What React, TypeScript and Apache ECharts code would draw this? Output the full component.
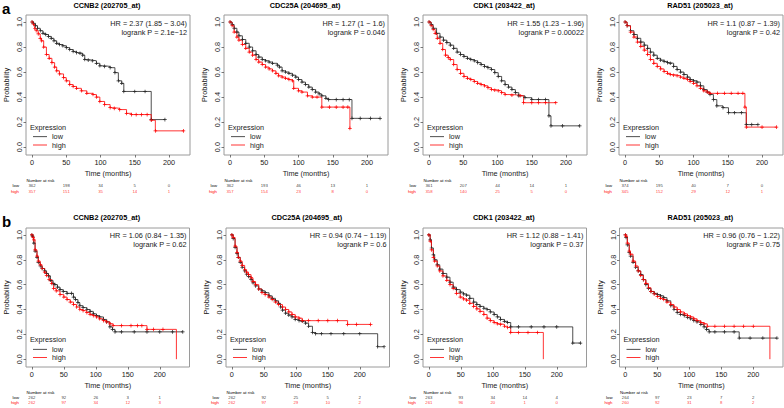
import React, { useEffect, useRef } from 'react';
import * as echarts from 'echarts';

// ---------------- DATA ----------------
const genes = ['CCNB2 (202705_at)', 'CDC25A (204695_at)', 'CDK1 (203422_at)', 'RAD51 (205023_at)'];
const hrTop = ['HR = 2.37 (1.85 − 3.04)', 'HR = 1.27 (1 − 1.6)', 'HR = 1.55 (1.23 − 1.96)', 'HR = 1.1 (0.87 − 1.39)'];
const pTop = ['logrank P = 2.1e−12', 'logrank P = 0.046', 'logrank P = 0.00022', 'logrank P = 0.42'];
const hrBottom = ['HR = 1.06 (0.84 − 1.35)', 'HR = 0.94 (0.74 − 1.19)', 'HR = 1.12 (0.88 − 1.41)', 'HR = 0.96 (0.76 − 1.22)'];
const pBottom = ['logrank P = 0.62', 'logrank P = 0.6', 'logrank P = 0.37', 'logrank P = 0.75'];
const panelLetters = ['a', 'b'];
const groups = ['low', 'high'];
const riskGroups = ['high', 'low'];
const riskTimes = [0, 50, 100, 150, 200];
const xTicks = [0, 50, 100, 150, 200];
const yTicks = [0, 0.2, 0.4, 0.6, 0.8, 1.0];

// survival curves [time (months), probability]
const a1Low = [[0,1],[2,0.99],[5,0.97],[8,0.95],[12,0.93],[16,0.91],[20,0.9],[24,0.885],[28,0.87],[32,0.85],[36,0.83],[40,0.82],[45,0.81],[50,0.795],[55,0.78],[60,0.765],[65,0.755],[70,0.75],[74,0.735],[77,0.7],[82,0.695],[88,0.69],[94,0.67],[99,0.65],[106,0.645],[114,0.635],[121,0.595],[126,0.53],[131,0.51],[134,0.445],[150,0.445],[165,0.445],[174,0.22],[194,0.22]];
const a1High = [[0,1],[2,0.98],[4,0.95],[6,0.93],[9,0.905],[12,0.87],[14,0.85],[17,0.8],[21,0.74],[25,0.71],[29,0.675],[33,0.64],[36,0.61],[40,0.585],[46,0.555],[50,0.53],[55,0.5],[60,0.485],[65,0.47],[72,0.45],[80,0.43],[89,0.42],[94,0.4],[99,0.365],[106,0.34],[114,0.315],[120,0.31],[128,0.3],[138,0.27],[145,0.26],[152,0.26],[160,0.26],[168,0.26],[174,0.215],[180,0.13],[221,0.13]];
const a2Low = [[0,1],[3,0.98],[6,0.95],[10,0.92],[13,0.89],[18,0.86],[23,0.83],[28,0.8],[33,0.77],[38,0.74],[42,0.72],[47,0.7],[52,0.69],[57,0.68],[62,0.67],[69,0.655],[72,0.64],[76,0.61],[81,0.6],[86,0.59],[91,0.575],[96,0.56],[100,0.54],[105,0.52],[110,0.5],[115,0.48],[120,0.46],[125,0.44],[130,0.425],[134,0.41],[140,0.39],[144,0.38],[155,0.38],[165,0.38],[174,0.38],[178,0.23],[190,0.23],[205,0.23],[219,0.23]];
const a2High = [[0,1],[3,0.97],[6,0.92],[10,0.88],[13,0.855],[18,0.82],[23,0.79],[28,0.76],[33,0.735],[38,0.7],[42,0.68],[47,0.66],[52,0.64],[57,0.625],[62,0.61],[67,0.59],[71,0.57],[76,0.56],[81,0.55],[86,0.54],[91,0.53],[93,0.47],[100,0.45],[105,0.44],[113,0.41],[120,0.4],[127,0.4],[134,0.32],[145,0.32],[155,0.32],[165,0.32],[172,0.32],[175,0.15]];
const a3Low = [[0,1],[3,0.98],[6,0.95],[11,0.91],[16,0.88],[21,0.855],[26,0.835],[31,0.815],[36,0.79],[41,0.76],[46,0.74],[51,0.725],[56,0.71],[61,0.7],[66,0.69],[71,0.675],[76,0.66],[81,0.645],[86,0.635],[91,0.62],[96,0.595],[101,0.565],[106,0.53],[111,0.5],[116,0.48],[121,0.46],[126,0.435],[131,0.41],[140,0.395],[150,0.38],[160,0.38],[170,0.38],[175,0.25],[178,0.17],[195,0.17],[220,0.17]];
const a3High = [[0,1],[3,0.97],[6,0.94],[9,0.91],[12,0.87],[16,0.83],[20,0.78],[24,0.735],[28,0.715],[31,0.7],[36,0.66],[41,0.62],[46,0.59],[51,0.565],[56,0.55],[61,0.54],[66,0.525],[71,0.51],[76,0.5],[81,0.49],[86,0.475],[91,0.46],[96,0.455],[101,0.45],[106,0.435],[111,0.42],[121,0.415],[133,0.41],[138,0.355],[150,0.355],[160,0.355],[170,0.355],[185,0.355]];
const a4Low = [[0,1],[3,0.97],[8,0.93],[13,0.9],[18,0.87],[23,0.84],[28,0.815],[33,0.79],[37,0.76],[42,0.735],[47,0.71],[52,0.695],[57,0.685],[62,0.675],[66,0.67],[71,0.645],[76,0.62],[81,0.6],[86,0.58],[91,0.56],[95,0.54],[100,0.53],[105,0.52],[110,0.49],[115,0.46],[120,0.44],[124,0.42],[129,0.38],[134,0.33],[143,0.315],[151,0.275],[160,0.275],[170,0.275],[177,0.18],[185,0.18],[194,0.18]];
const a4High = [[0,1],[3,0.97],[8,0.92],[13,0.88],[18,0.84],[23,0.805],[28,0.775],[33,0.74],[37,0.7],[42,0.67],[47,0.645],[52,0.625],[57,0.605],[62,0.59],[66,0.58],[71,0.575],[76,0.57],[81,0.56],[86,0.55],[91,0.54],[95,0.525],[100,0.51],[105,0.49],[110,0.47],[115,0.45],[120,0.44],[124,0.43],[135,0.43],[145,0.43],[155,0.43],[165,0.43],[172,0.43],[175,0.32],[177,0.16],[200,0.16],[221,0.16]];
const b1Low = [[0,1],[1,0.99],[3,0.935],[5,0.87],[8,0.82],[10,0.78],[13,0.75],[16,0.73],[20,0.71],[23,0.69],[26,0.67],[29,0.635],[33,0.61],[36,0.6],[40,0.58],[44,0.56],[49,0.545],[55,0.53],[62,0.53],[65,0.5],[68,0.48],[72,0.455],[75,0.43],[80,0.415],[86,0.4],[91,0.385],[96,0.365],[101,0.35],[106,0.34],[112,0.32],[117,0.3],[122,0.26],[126,0.24],[130,0.22],[140,0.22],[160,0.22],[180,0.22],[200,0.22],[220,0.22],[236,0.22]];
const b1High = [[0,1],[2,0.98],[3,0.96],[5,0.88],[8,0.83],[10,0.79],[13,0.76],[16,0.73],[20,0.7],[23,0.675],[27,0.64],[31,0.61],[34,0.57],[38,0.55],[44,0.52],[50,0.5],[55,0.48],[60,0.46],[65,0.44],[70,0.42],[75,0.4],[80,0.39],[86,0.375],[91,0.36],[96,0.35],[101,0.34],[106,0.325],[112,0.31],[117,0.3],[122,0.285],[127,0.27],[140,0.27],[155,0.27],[165,0.27],[172,0.27],[180,0.24],[190,0.24],[205,0.24],[226,0]];
const b2Low = [[0,1],[2,0.97],[5,0.9],[8,0.85],[10,0.82],[13,0.78],[16,0.74],[20,0.71],[23,0.685],[26,0.665],[30,0.64],[33,0.615],[37,0.59],[42,0.565],[47,0.55],[52,0.535],[58,0.51],[63,0.49],[68,0.47],[73,0.45],[76,0.42],[79,0.395],[84,0.37],[89,0.355],[94,0.34],[99,0.32],[105,0.31],[110,0.305],[115,0.29],[120,0.265],[126,0.215],[131,0.205],[140,0.205],[155,0.205],[175,0.205],[200,0.205],[228,0.1],[238,0.1]];
const b2High = [[0,1],[2,0.98],[5,0.91],[8,0.86],[10,0.82],[13,0.79],[16,0.755],[20,0.72],[23,0.7],[26,0.68],[30,0.655],[33,0.625],[37,0.6],[42,0.565],[47,0.535],[52,0.52],[58,0.5],[63,0.48],[68,0.46],[73,0.44],[79,0.42],[84,0.4],[89,0.38],[94,0.36],[99,0.34],[105,0.33],[110,0.31],[120,0.31],[135,0.31],[150,0.31],[165,0.31],[181,0.28],[195,0.28],[217,0.28]];
const b3Low = [[0,1],[2,0.96],[4,0.895],[7,0.84],[9,0.8],[13,0.76],[17,0.725],[22,0.69],[28,0.66],[33,0.62],[38,0.58],[43,0.56],[49,0.54],[54,0.525],[59,0.515],[64,0.49],[70,0.46],[75,0.44],[80,0.425],[86,0.41],[91,0.4],[96,0.38],[102,0.36],[107,0.34],[112,0.32],[118,0.305],[123,0.295],[128,0.26],[140,0.26],[160,0.26],[180,0.26],[200,0.26],[225,0.13],[237,0.13]];
const b3High = [[0,1],[2,0.95],[4,0.88],[7,0.82],[9,0.79],[13,0.75],[17,0.71],[22,0.67],[28,0.635],[33,0.6],[38,0.57],[43,0.53],[49,0.5],[54,0.485],[59,0.475],[64,0.45],[70,0.425],[75,0.405],[80,0.385],[86,0.36],[91,0.33],[96,0.31],[102,0.295],[107,0.285],[112,0.28],[118,0.265],[123,0.255],[128,0.215],[140,0.215],[155,0.215],[170,0.215],[179,0]];
const b4Low = [[0,1],[1,0.98],[3,0.92],[6,0.86],[8,0.83],[12,0.78],[16,0.74],[20,0.71],[24,0.68],[28,0.64],[32,0.6],[36,0.57],[40,0.545],[45,0.53],[50,0.52],[55,0.51],[60,0.495],[65,0.47],[71,0.43],[76,0.4],[81,0.375],[86,0.36],[92,0.35],[97,0.335],[102,0.325],[107,0.31],[112,0.3],[118,0.28],[123,0.26],[127,0.24],[131,0.22],[140,0.22],[155,0.22],[170,0.22],[178,0.17],[195,0.17],[215,0.17],[237,0.17]];
const b4High = [[0,1],[1,0.99],[3,0.935],[6,0.87],[8,0.845],[12,0.79],[16,0.75],[20,0.71],[24,0.675],[28,0.64],[32,0.61],[36,0.575],[40,0.545],[45,0.525],[50,0.505],[55,0.49],[60,0.48],[65,0.46],[71,0.44],[76,0.42],[81,0.4],[86,0.38],[92,0.365],[97,0.35],[102,0.34],[107,0.325],[112,0.31],[118,0.295],[123,0.285],[128,0.265],[140,0.265],[155,0.265],[170,0.265],[185,0.265],[200,0.265],[226,0]];

// numbers at risk at riskTimes
const a1RiskLow = [362, 198, 34, 5, 0];
const a1RiskHigh = [357, 151, 35, 14, 1];
const a2RiskLow = [362, 193, 46, 13, 1];
const a2RiskHigh = [357, 154, 23, 8, 0];
const a3RiskLow = [361, 207, 44, 14, 1];
const a3RiskHigh = [358, 140, 25, 5, 0];
const a4RiskLow = [374, 195, 40, 7, 0];
const a4RiskHigh = [345, 152, 29, 12, 1];
const b1RiskLow = [262, 92, 26, 3, 1];
const b1RiskHigh = [262, 97, 34, 12, 3];
const b2RiskLow = [262, 92, 25, 5, 2];
const b2RiskHigh = [262, 97, 29, 10, 2];
const b3RiskLow = [263, 93, 34, 14, 4];
const b3RiskHigh = [261, 96, 20, 1, 0];
const b4RiskLow = [264, 97, 23, 7, 2];
const b4RiskHigh = [260, 92, 31, 8, 2];

const curvesLow = [a1Low, a2Low, a3Low, a4Low, b1Low, b2Low, b3Low, b4Low];
const curvesHigh = [a1High, a2High, a3High, a4High, b1High, b2High, b3High, b4High];
const risksLow = [a1RiskLow, a2RiskLow, a3RiskLow, a4RiskLow, b1RiskLow, b2RiskLow, b3RiskLow, b4RiskLow];
const risksHigh = [a1RiskHigh, a2RiskHigh, a3RiskHigh, a4RiskHigh, b1RiskHigh, b2RiskHigh, b3RiskHigh, b4RiskHigh];

// ---------------- LAYOUT / STYLE ----------------
const FONT = "'Liberation Sans', Arial, Helvetica, sans-serif";
const LOW_COLOR = '#222222';
const HIGH_COLOR = '#ff0000';
const TXT = '#1a1a1a';
const FS = 7.3;
const RISK_FS = 4.3;
const PLUS = 'path://M4,0H6V4H10V6H6V10H4V6H0V4H4Z';
const LINE_ICON = 'path://M0,0M0,3.6H14V4.4H0ZM14,8';

const ROWS = [
  { lefts: [26, 224, 423, 619], width: 164, top: 15, height: 140, xMin: -8.8, xMax: 230.6,
    titleY: 5, hrY: 18.5, exprY: 127, legendTop: 132.7, nrY: 180, riskTop: 181.7, riskH: 13.4, letterY: 8.5 },
  { lefts: [26, 226, 423, 619.5], width: 163.5, top: 228, height: 139, xMin: -9.2, xMax: 246.5,
    titleY: 217.5, hrY: 230.5, exprY: 339.3, legendTop: 345.3, nrY: 392.7, riskTop: 395.2, riskH: 10, letterY: 221.8 },
];
const Y_MIN = -0.063;
const Y_MAX = 1.056;

function buildOption() {
  const grid: any[] = [];
  const xAxis: any[] = [];
  const yAxis: any[] = [];
  const series: any[] = [];
  const legend: any[] = [];
  const elements: any[] = [];
  const riskGrid: any[] = [];
  const riskX: any[] = [];
  const riskY: any[] = [];
  const riskSeries: any[] = [];
  const groupColors = [LOW_COLOR, HIGH_COLOR];

  for (let i = 0; i < 8; i++) {
    const r = i < 4 ? 0 : 1;
    const c = i % 4;
    const R = ROWS[r];
    const L = R.lefts[c];
    const W = R.width;

    grid.push({ left: L, top: R.top, width: W, height: R.height, show: true, borderColor: '#9a9a9a', borderWidth: 1,
      backgroundColor: 'transparent', containLabel: false, outerBoundsMode: 'none' });
    riskGrid.push({ left: L, top: R.riskTop, width: W, height: R.riskH, show: false, containLabel: false, outerBoundsMode: 'none' });

    xAxis.push({
      type: 'value', gridIndex: i, min: R.xMin, max: R.xMax,
      axisLine: { show: false, onZero: false },
      axisTick: { show: true, length: 2.5, lineStyle: { color: '#555', width: 0.8 }, customValues: xTicks },
      axisLabel: { customValues: xTicks, fontSize: FS, color: TXT, margin: 4, fontFamily: FONT },
      splitLine: { show: false },
      name: 'Time (months)', nameLocation: 'middle', nameGap: 15,
      nameTextStyle: { fontSize: FS, color: TXT, fontFamily: FONT },
    });
    yAxis.push({
      type: 'value', gridIndex: i, min: Y_MIN, max: Y_MAX,
      axisLine: { show: false, onZero: false },
      axisTick: { show: true, length: 2.5, lineStyle: { color: '#555', width: 0.8 }, customValues: yTicks },
      axisLabel: { customValues: yTicks, rotate: 90, fontSize: FS, color: TXT, margin: 3, fontFamily: FONT,
        formatter: (v: number) => v.toFixed(1) },
      splitLine: { show: false },
      name: 'Probability', nameLocation: 'middle', nameGap: 16,
      nameTextStyle: { fontSize: FS, color: TXT, fontFamily: FONT },
    });
    riskX.push({ type: 'value', gridIndex: 8 + i, min: R.xMin, max: R.xMax, show: false });
    riskY.push({
      type: 'category', gridIndex: 8 + i, data: riskGroups,
      axisLine: { show: false }, axisTick: { show: false }, splitLine: { show: false },
      axisLabel: {
        interval: 0, margin: 7, fontSize: RISK_FS, fontFamily: FONT,
        formatter: (v: string) => (v === 'high' ? '{h|high}' : '{l|low}'),
        rich: { h: { color: HIGH_COLOR, fontSize: RISK_FS, fontFamily: FONT }, l: { color: '#000', fontSize: RISK_FS, fontFamily: FONT } },
      },
    });

    const mk = (name: string, data: number[][], color: string) => ({
      type: 'line', name, xAxisIndex: i, yAxisIndex: i, data, step: 'end',
      showSymbol: true, showAllSymbol: true,
      symbol: (v: number[]) => (v[1] === 0 ? 'none' : PLUS), symbolSize: 3.6,
      itemStyle: { color, borderWidth: 0 }, lineStyle: { color, width: 0.8 }, color,
      silent: true, animation: false,
    });
    series.push(mk(groups[0], curvesLow[i], LOW_COLOR));
    series.push(mk(groups[1], curvesHigh[i], HIGH_COLOR));

    const mkRisk = (name: string, vals: number[], yIdx: number, color: string) => ({
      type: 'scatter', name, xAxisIndex: 8 + i, yAxisIndex: 8 + i,
      data: vals.map((n, k) => [riskTimes[k], yIdx, n]),
      symbolSize: 0, silent: true,
      label: { show: true, position: 'inside', formatter: (p: any) => String(p.value[2]), fontSize: RISK_FS, color, fontFamily: FONT },
    });
    riskSeries.push(mkRisk('risk-low-' + i, risksLow[i], 1, '#000'));
    riskSeries.push(mkRisk('risk-high-' + i, risksHigh[i], 0, HIGH_COLOR));

    legend.push({
      orient: 'vertical', left: L + 7, top: R.legendTop, padding: 0, itemWidth: 14, itemHeight: 8, itemGap: 0.3,
      icon: LINE_ICON, selectedMode: false,
      data: groups.map((g, k) => ({ name: g, icon: LINE_ICON, itemStyle: { color: groupColors[k], borderWidth: 0 } })),
      textStyle: { fontSize: FS, lineHeight: 8, color: TXT, fontFamily: FONT },
    });

    const cx = L + W / 2 - 1;
    const right = L + W - 3;
    elements.push({ type: 'text', x: cx, y: R.titleY, silent: true,
      style: { text: genes[c], fontSize: FS, fontWeight: 'bold', fontFamily: FONT, fill: '#000',
        align: 'center', textAlign: 'center', verticalAlign: 'middle', textVerticalAlign: 'middle' } });
    elements.push({ type: 'text', x: right, y: R.hrY, silent: true,
      style: { text: (r === 0 ? hrTop[c] : hrBottom[c]) + '\n' + (r === 0 ? pTop[c] : pBottom[c]),
        fontSize: FS, lineHeight: 9, fontFamily: FONT, fill: TXT,
        align: 'right', textAlign: 'right', verticalAlign: 'top', textVerticalAlign: 'top' } });
    elements.push({ type: 'text', x: L + 4, y: R.exprY, silent: true,
      style: { text: 'Expression', fontSize: FS, fontFamily: FONT, fill: TXT,
        align: 'left', textAlign: 'left', verticalAlign: 'middle', textVerticalAlign: 'middle' } });
    elements.push({ type: 'text', x: L + 0.5, y: R.nrY, silent: true,
      style: { text: 'Number at risk', fontSize: RISK_FS, fontFamily: FONT, fill: '#000',
        align: 'left', textAlign: 'left', verticalAlign: 'middle', textVerticalAlign: 'middle' } });
  }
  ROWS.forEach((R, r) => {
    elements.push({ type: 'text', x: 2, y: R.letterY, silent: true,
      style: { text: panelLetters[r], fontSize: 15, fontWeight: 'bold', fontFamily: FONT, fill: '#000',
        align: 'left', textAlign: 'left', verticalAlign: 'middle', textVerticalAlign: 'middle' } });
  });

  return {
    animation: false,
    backgroundColor: '#ffffff',
    textStyle: { fontFamily: FONT },
    grid: [...grid, ...riskGrid],
    xAxis: [...xAxis, ...riskX],
    yAxis: [...yAxis, ...riskY],
    legend,
    series: [...series, ...riskSeries],
    graphic: { elements },
  };
}

export default function App() {
  const ref = useRef<HTMLDivElement>(null);
  useEffect(() => {
    if (!ref.current) return;
    const chart = echarts.init(ref.current, undefined, { renderer: 'svg' });
    chart.setOption(buildOption() as any);
    return () => chart.dispose();
  }, []);
  return <div ref={ref} style={{ position: 'absolute', left: 0, top: 0, width: 784, height: 408, background: '#fff' }} />;
}
